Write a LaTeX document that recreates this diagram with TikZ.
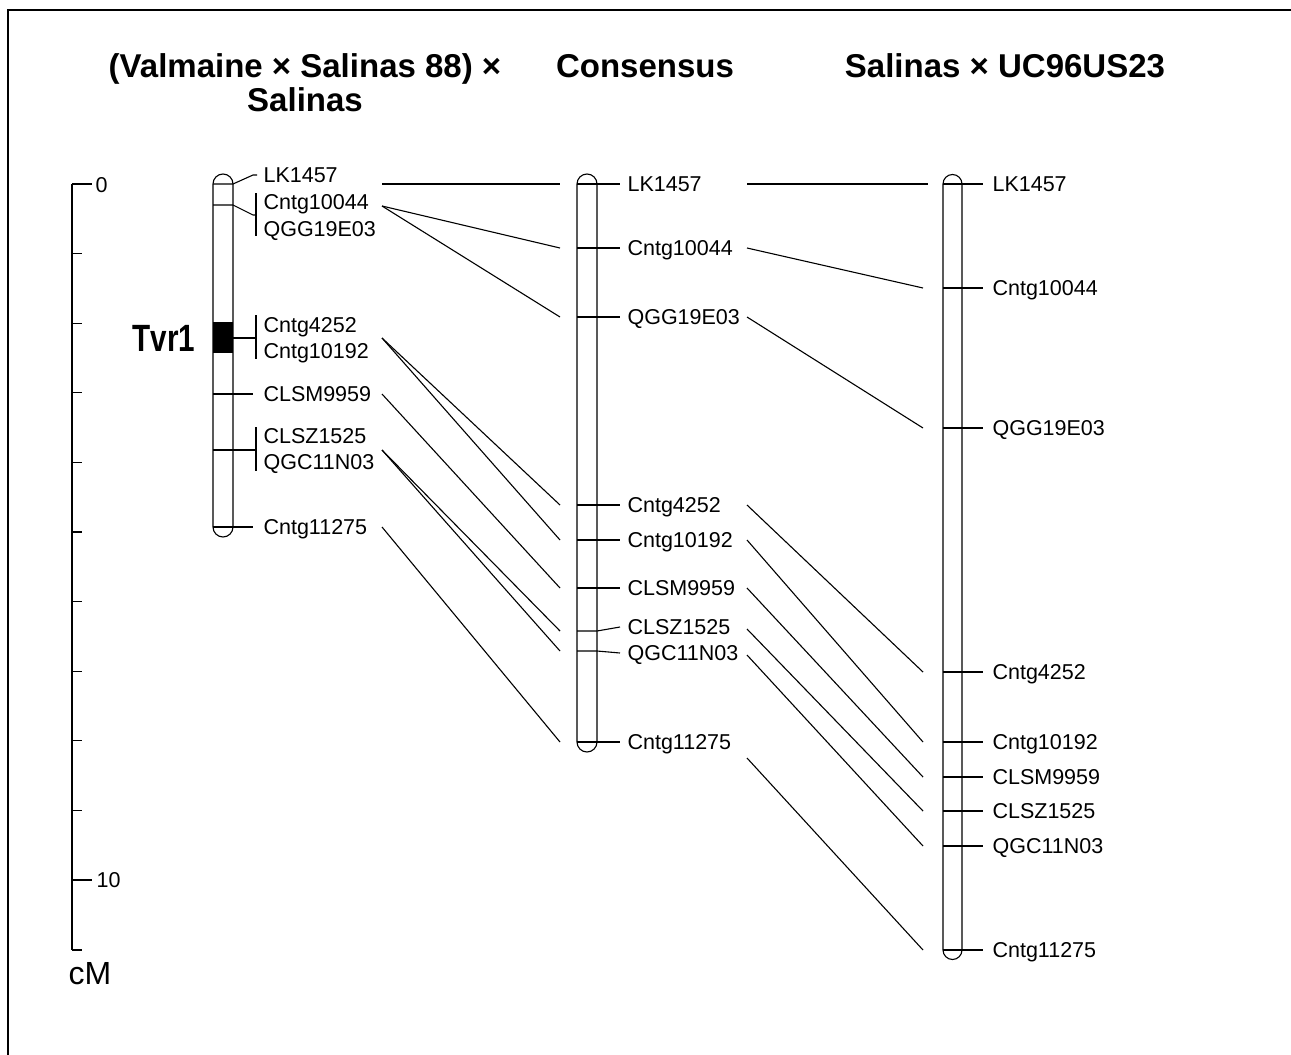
\documentclass[tikz,border=0pt]{standalone}
\usepackage{fontspec}
\setmainfont{Liberation Sans}
\begin{document}
\begin{tikzpicture}[x=1pt,y=-1pt,line width=1.1pt,
  lab/.style={anchor=base west,inner sep=0pt,font=\fontsize{21.5}{26}\selectfont},
  ttl/.style={anchor=base,inner sep=0pt,font=\fontsize{33}{36}\selectfont\bfseries},
  chrom/.style={draw,line width=1.1pt},
  conn/.style={draw,line width=1.1pt}]
\useasboundingbox (0,0) rectangle (1291,1055);
% frame
\draw[line width=2pt] (8,1055) -- (8,10) -- (1291,10);
% titles
\node[ttl] (t1a) at (305,77) {(Valmaine × Salinas 88) ×};
\node[ttl] (t1b) at (305,111) {Salinas};
\node[ttl] (t2) at (645,77) {Consensus};
\node[ttl] (t3) at (1005,77) {Salinas × UC96US23};
% scale bar
\draw (72,184) -- (72,950);
\draw (72,184) -- (92,184);
\draw (72,880) -- (92,880);
\foreach \k in {1,...,9} {\draw (72,184+69.6*\k) -- (82,184+69.6*\k);}
\draw (72,950) -- (82,950);
\node[lab] (s0) at (95,192.5) {0};
\node[lab] (s10) at (96,887.5) {10};
\node[anchor=base west,inner sep=0pt,font=\fontsize{32}{36}\selectfont] (cm) at (68,984) {cM};
% ---------- left chromosome ----------
\draw[chrom] (213,184) arc[start angle=180,end angle=360,radius=10] -- (233,527)
  arc[start angle=0,end angle=180,radius=10] -- cycle;
\fill (213,322) rectangle (233,353);
\node[anchor=east,inner sep=0pt,font=\fontsize{38}{40}\selectfont\bfseries] (tvr) at (196,338) {\scalebox{0.78}[1]{Tvr1}};
\coordinate (A1) at (233,184);
\coordinate (A2) at (233,205);
\coordinate (A3) at (233,338);
\coordinate (A4) at (233,394);
\coordinate (A5) at (233,450);
\coordinate (A6) at (233,527);
\draw (213,184) -- (A1) -- (253,175) -- (257,175);
\draw (213,205) -- (A2) -- (253,215) -- (256,215);
\draw (256,193) -- (256,236);
\draw (213,338) -- (A3) -- (256,338);
\draw (256,315) -- (256,359);
\draw (213,394) -- (A4) -- (253,394);
\draw (213,450) -- (A5) -- (256,450);
\draw (256,427) -- (256,471);
\draw (213,527) -- (A6) -- (253,527);
\node[lab] (aLK) at (263,182.5) {LK1457};
\node[lab] (a10044) at (263,209.5) {Cntg10044};
\node[lab] (aQGG) at (263,236.5) {QGG19E03};
\node[lab] (a4252) at (263,332.5) {Cntg4252};
\node[lab] (a10192) at (263,358.5) {Cntg10192};
\node[lab] (aCLSM) at (263,401.5) {CLSM9959};
\node[lab] (aCLSZ) at (263,443.5) {CLSZ1525};
\node[lab] (aQGC) at (263,469.5) {QGC11N03};
\node[lab] (a11275) at (263,534.5) {Cntg11275};
% ---------- consensus chromosome ----------
\draw[chrom] (577,184) arc[start angle=180,end angle=360,radius=10] -- (597,742)
  arc[start angle=0,end angle=180,radius=10] -- cycle;
\foreach \m/\l in {184/184,248/248,317/317,505/505,540/540,588/588,631/627,651/653,742/742}
  {\draw (577,\m) -- (597,\m) -- (620,\l);}
\node[lab] (bLK) at (627,191.5) {LK1457};
\node[lab] (b10044) at (627,255.5) {Cntg10044};
\node[lab] (bQGG) at (627,324.5) {QGG19E03};
\node[lab] (b4252) at (627,512.5) {Cntg4252};
\node[lab] (b10192) at (627,547.5) {Cntg10192};
\node[lab] (bCLSM) at (627,595.5) {CLSM9959};
\node[lab] (bCLSZ) at (627,634.5) {CLSZ1525};
\node[lab] (bQGC) at (627,660.5) {QGC11N03};
\node[lab] (b11275) at (627,749.5) {Cntg11275};
% ---------- right chromosome ----------
\draw[chrom] (943,184) arc[start angle=180,end angle=360,radius=9.5] -- (962,950)
  arc[start angle=0,end angle=180,radius=9.5] -- cycle;
\foreach \m in {184,288,428,672,742,777,811,846,950}
  {\draw (943,\m) -- (983,\m);}
\node[lab] (cLK) at (992,191.5) {LK1457};
\node[lab] (c10044) at (992,295.5) {Cntg10044};
\node[lab] (cQGG) at (992,435.5) {QGG19E03};
\node[lab] (c4252) at (992,679.5) {Cntg4252};
\node[lab] (c10192) at (992,749.5) {Cntg10192};
\node[lab] (cCLSM) at (992,784.5) {CLSM9959};
\node[lab] (cCLSZ) at (992,818.5) {CLSZ1525};
\node[lab] (cQGC) at (992,853.5) {QGC11N03};
\node[lab] (c11275) at (992,957.5) {Cntg11275};
% ---------- connectors left -> consensus ----------
\coordinate (pA1) at (382,184);
\coordinate (pA2) at (382,206);
\coordinate (pA3) at (382,338);
\coordinate (pA4) at (382,394);
\coordinate (pA5) at (382,450);
\coordinate (pA6) at (382,527);
\coordinate (qB1) at (560,184);
\coordinate (qB2) at (560,248);
\coordinate (qB3) at (560,317);
\coordinate (qB4) at (560,505);
\coordinate (qB5) at (560,540);
\coordinate (qB6) at (560,588);
\coordinate (qB7) at (560,631);
\coordinate (qB8) at (560,651);
\coordinate (qB9) at (560,742);
\draw[conn] (pA1) -- (qB1);
\draw[conn] (pA2) -- (qB2);
\draw[conn] (pA2) -- (qB3);
\draw[conn] (pA3) -- (qB4);
\draw[conn] (pA3) -- (qB5);
\draw[conn] (pA4) -- (qB6);
\draw[conn] (pA5) -- (qB7);
\draw[conn] (pA5) -- (qB8);
\draw[conn] (pA6) -- (qB9);
% ---------- connectors consensus -> right ----------
\coordinate (pB1) at (747,184);
\coordinate (pB2) at (747,248);
\coordinate (pB3) at (747,317);
\coordinate (pB4) at (747,505);
\coordinate (pB5) at (747,540);
\coordinate (pB6) at (747,588);
\coordinate (pB7) at (747,629);
\coordinate (pB8) at (747,655);
\coordinate (pB9) at (747,758);
\coordinate (qC1) at (928,184);
\coordinate (qC2) at (923,288);
\coordinate (qC3) at (923,428);
\coordinate (qC4) at (923,672);
\coordinate (qC5) at (923,742);
\coordinate (qC6) at (923,777);
\coordinate (qC7) at (923,811);
\coordinate (qC8) at (923,846);
\coordinate (qC9) at (923,950);
\foreach \i in {1,...,9} {\draw[conn] (pB\i) -- (qC\i);}
\end{tikzpicture}
\end{document}
